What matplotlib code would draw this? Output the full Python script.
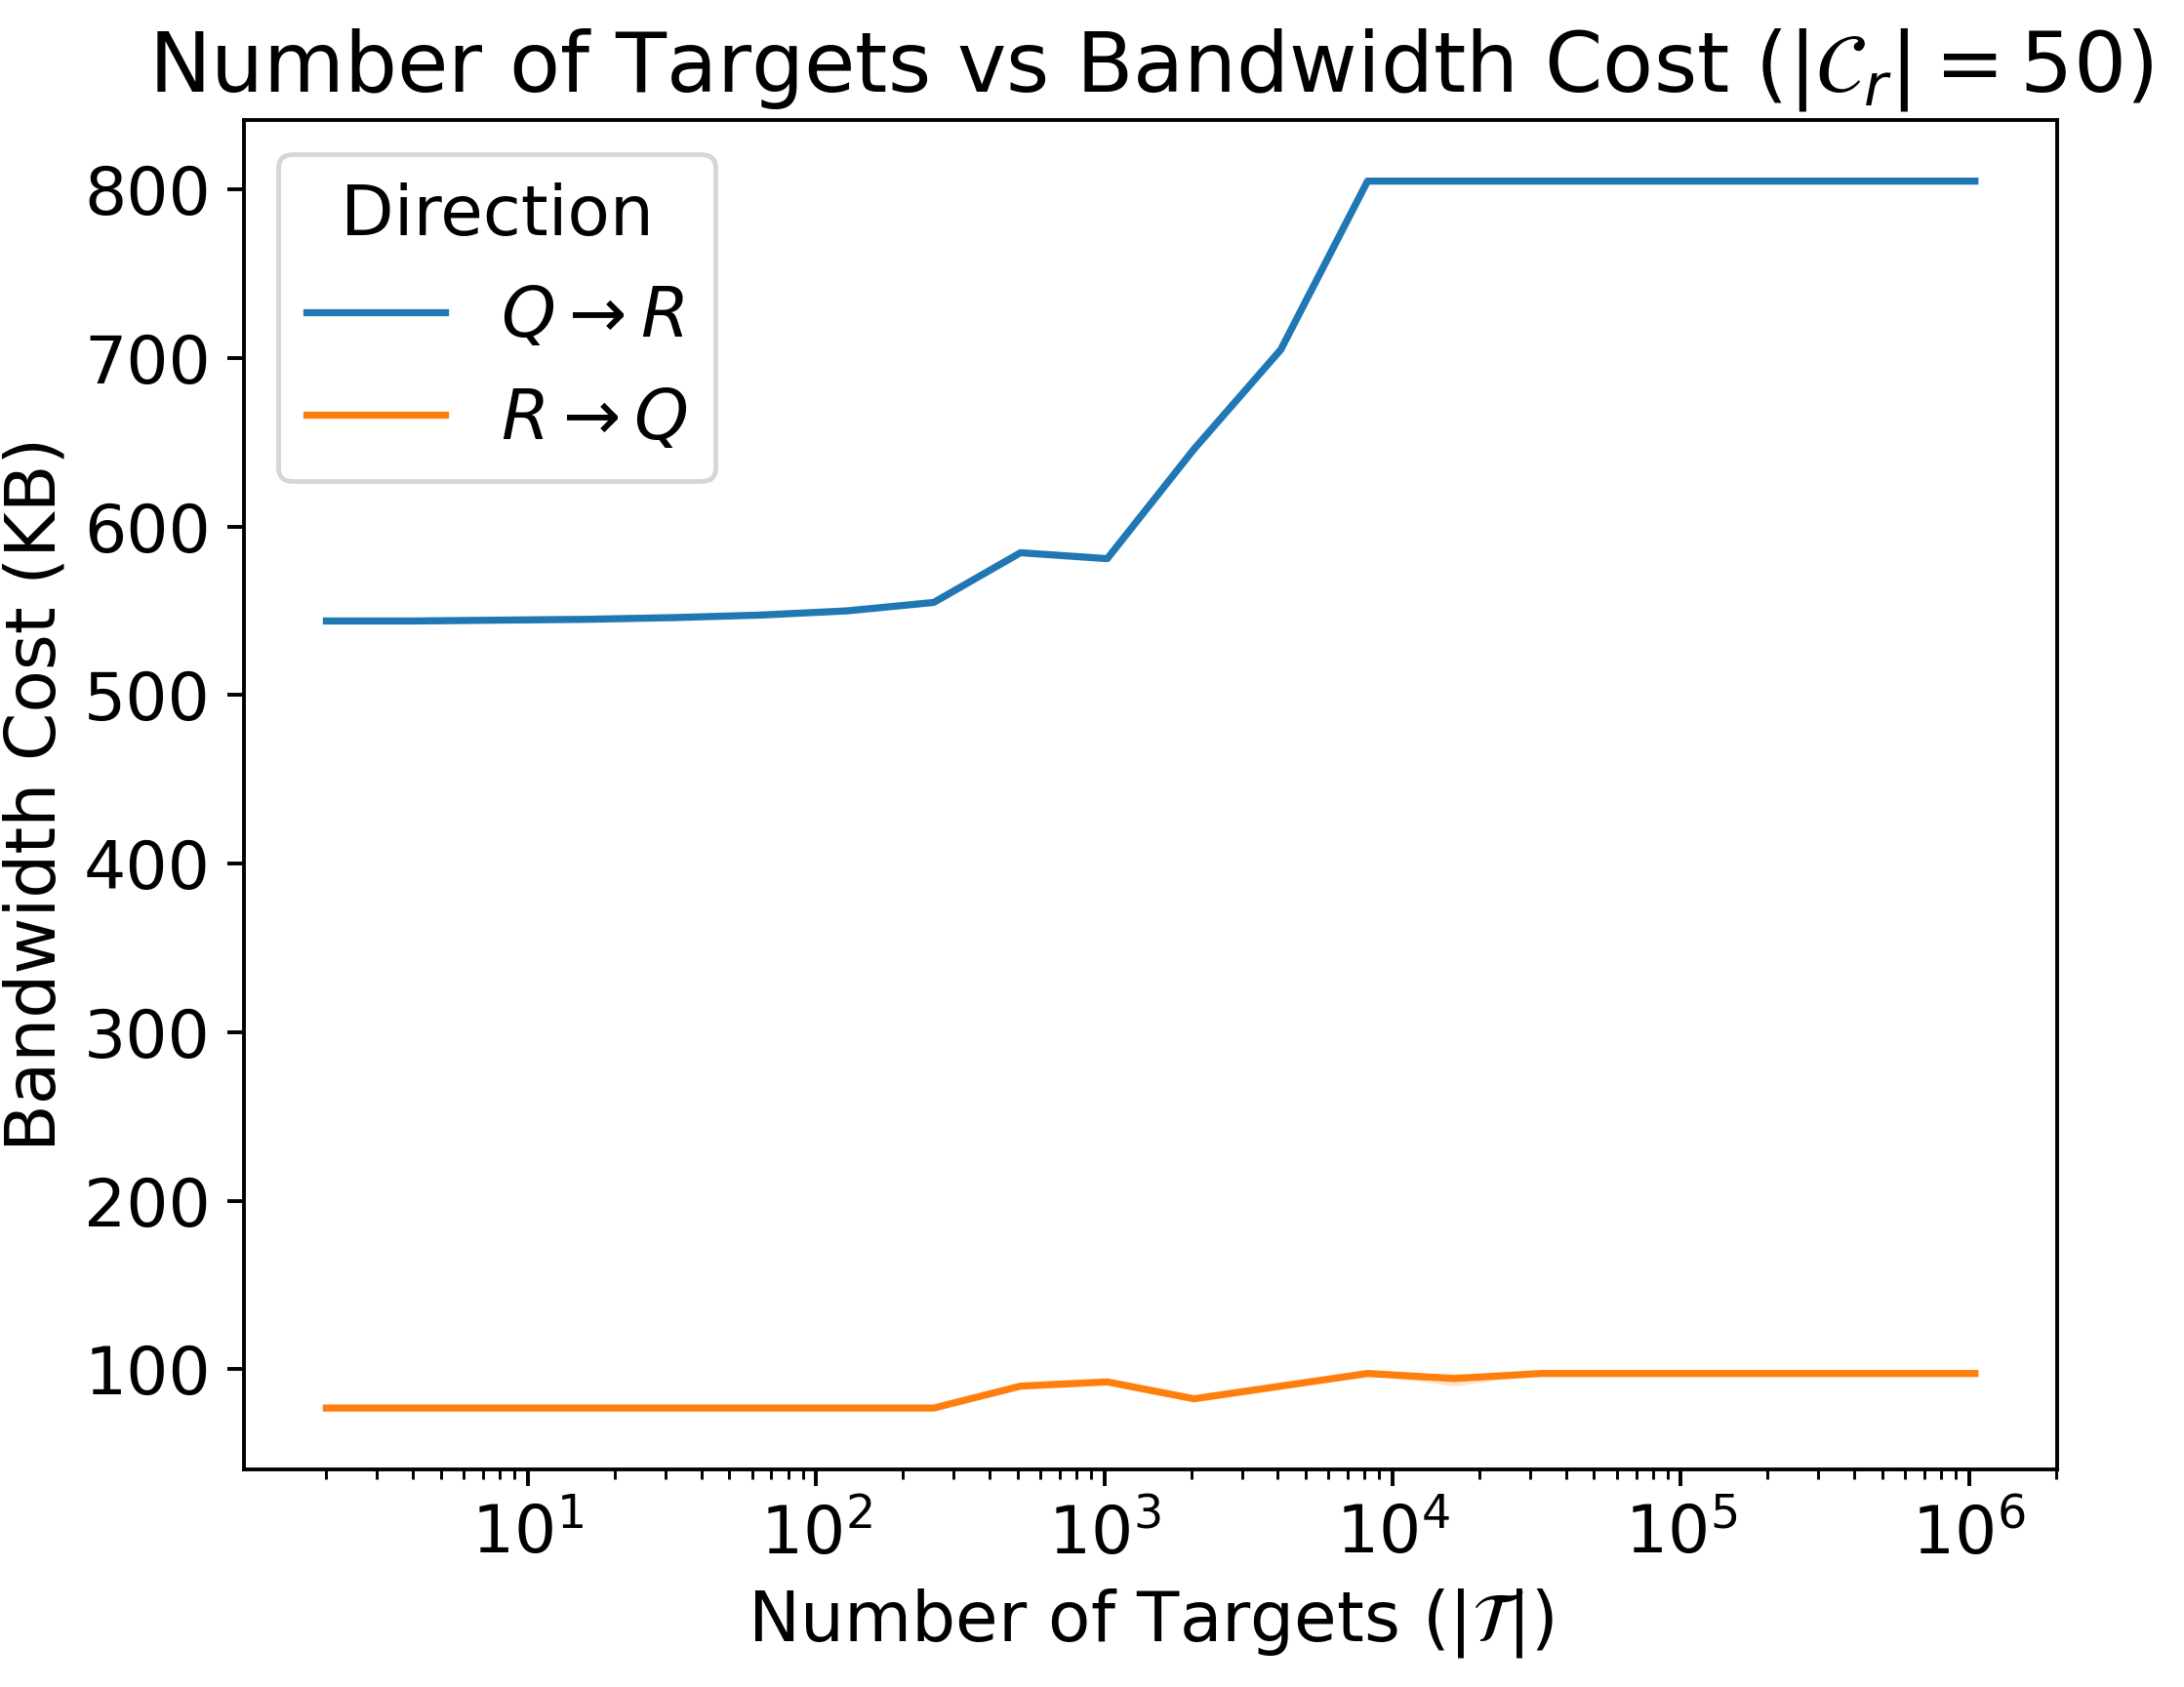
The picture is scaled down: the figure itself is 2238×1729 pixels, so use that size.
import matplotlib.pyplot as plt

plt.rcParams['font.family'] = ['DejaVu Sans']

targets = [2**k for k in range(1, 21)]
q_to_r = [544, 544, 544.5, 545, 546, 547.5, 550, 555, 584.5, 581, 646, 705,
          805, 805, 805, 805, 805, 805, 805, 805]
r_to_q = [77, 77, 77, 77, 77, 77, 77, 77, 90, 92.5, 82.5, 90, 97.5, 94.5,
          97.5, 97.5, 97.5, 97.5, 97.5, 97.5]
r_to_q_lo = [77, 77, 77, 77, 77, 77, 77, 77, 90, 92.5, 82.5, 90, 97, 90,
             97.5, 97.5, 97.5, 97.5, 97.5, 97.5]
r_to_q_hi = [77, 77, 77, 77, 77, 77, 77, 77, 90, 92.5, 82.5, 90, 97.5, 97.5,
             97.5, 97.5, 97.5, 97.5, 97.5, 97.5]

fig = plt.figure(figsize=(2238/350, 1729/350), dpi=350)
ax = fig.add_axes([0.1117, 0.129, 0.8303, 0.80])

ax.plot(targets, q_to_r, color='#1f77b4', lw=1.5, label=r'$Q \rightarrow R$')
ax.plot(targets, r_to_q, color='#ff7f0e', lw=1.5, label=r'$R \rightarrow Q$')
ax.fill_between(targets, r_to_q_lo, r_to_q_hi, color='#ff7f0e', alpha=0.2, lw=0)

ax.set_xscale('log')
ax.set_title(r'Number of Targets vs Bandwidth Cost ($|\mathcal{C}_r| = 50$)', fontsize=17.5)
ax.set_xlabel(r'Number of Targets ($|\mathcal{T}|$)', fontsize=14.6)
ax.set_ylabel('Bandwidth Cost (KB)', fontsize=14.6, labelpad=3)
ax.tick_params(labelsize=14)
ax.legend(title='Direction', fontsize=14.6, title_fontsize=14.6, loc='upper left')

fig.savefig('out.png', dpi=350)
